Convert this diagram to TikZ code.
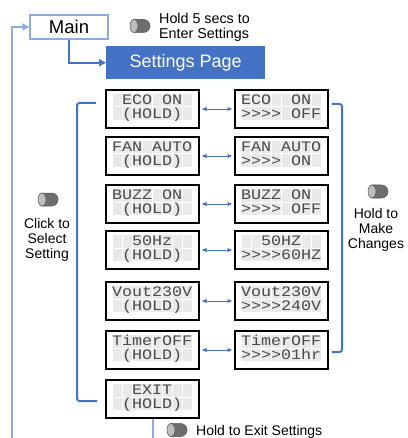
\documentclass[tikz,border=0pt]{standalone}
\usepackage{fontspec}
\setmainfont{Liberation Sans}
\newfontfamily\lcdfont[FakeStretch=1.15]{Liberation Mono}
\usetikzlibrary{arrows.meta}
\definecolor{dblue}{HTML}{4472C4}
\definecolor{lblue}{HTML}{8FAADC}
\definecolor{cellgray}{HTML}{E9E9E9}
\definecolor{lcdtext}{HTML}{4A4A4A}
\definecolor{btnbody}{HTML}{6E6E6E}
\definecolor{btnedge}{HTML}{505050}
\definecolor{btnface}{HTML}{BDBDBD}
\tikzset{
  lcdbox/.style={draw=black, line width=2pt, fill=white, minimum width=93pt, minimum height=38pt, inner sep=0pt, anchor=north west},
  lcdtxt/.style={font=\lcdfont\fontsize{14.5}{14.5}\selectfont, text=lcdtext, inner sep=0pt, anchor=base west},
  lbl/.style={font=\fontsize{14}{15}\selectfont, align=center, inner sep=0pt},
  dbl/.style={dblue, line width=0.8pt, shorten <=1.5pt, shorten >=1.5pt, {Latex[length=5pt,width=4.5pt]}-{Latex[length=5pt,width=4.5pt]}},
  bracket/.style={dblue, line width=2pt, rounded corners=2.5pt},
  btn/.pic={
    \fill[btnbody, draw=btnedge, line width=0.5pt] (-6,-6.5) -- (3.5,-6.5) arc[start angle=-90, end angle=90, radius=6.5] -- (-6,6.5) -- cycle;
    \filldraw[fill=btnface, draw=btnedge, line width=0.5pt] (-6,0) ellipse[x radius=4, y radius=6.5];
  }
}
\newcommand\lcdunit[5]{%
  \node[lcdbox] (#1) at (#2,#3) {};
  \foreach \rr in {0,1} \foreach \kk in {0,...,7}
    \fill[cellgray] (#2+7.5+\kk*10, #3+5+\rr*13.5) rectangle ++(9,12.5);
  \node[lcdtxt] (#1-a) at (#2+7,#3+15.8) {#4};
  \node[lcdtxt] (#1-b) at (#2+7,#3+29.3) {#5};
}
\begin{document}
\begin{tikzpicture}[x=1pt,y=-1pt]
\useasboundingbox (0,0) rectangle (407,438);

% top
\node[draw=lblue, line width=1.3pt, minimum width=78pt, minimum height=24pt, inner sep=0pt,
      font=\fontsize{18.5}{18.5}\selectfont] (main) at (69,27) {Main};
\node[fill=dblue, minimum width=159pt, minimum height=33pt, inner sep=0pt, anchor=north west,
      text=white, font=\fontsize{18}{18}\selectfont] (settings) at (106,46) {Settings Page};
\pic at (140,26) {btn};
\node[lbl, align=left, anchor=west, font=\fontsize{14.3}{14.5}\selectfont] (hold5) at (159,27.5) {Hold 5 secs to\\Enter Settings};

\draw[dblue, line width=2pt, -{Triangle[length=7pt,width=7pt]}] (main.south) |- (settings.west);
\coordinate (lb) at (12,438);
\draw[lblue, line width=2pt, -{Triangle[length=7pt,width=7pt]}] (lb) |- (main.west);

% LCD units
\lcdunit{ecoL}{105}{89}{~ECO~ON}{~(HOLD)}
\lcdunit{ecoR}{234}{89}{ECO~~ON}{>>>>~OFF}
\lcdunit{fanL}{105}{136}{FAN~AUTO}{~(HOLD)}
\lcdunit{fanR}{234}{136}{FAN~AUTO}{>>>>~ON}
\lcdunit{buzL}{105}{184}{BUZZ~ON}{~(HOLD)}
\lcdunit{buzR}{234}{184}{BUZZ~ON}{>>>>~OFF}
\lcdunit{hzL}{105}{230}{~~50Hz}{~(HOLD)}
\lcdunit{hzR}{234}{230}{~~50HZ}{>>>>60HZ}
\lcdunit{voL}{105}{281}{Vout230V}{~(HOLD)}
\lcdunit{voR}{234}{281}{Vout230V}{>>>>240V}
\lcdunit{tmL}{105}{330}{TimerOFF}{~(HOLD)}
\lcdunit{tmR}{234}{330}{TimerOFF}{>>>>01hr}
\lcdunit{exit}{105}{379}{~~EXIT}{~(HOLD)}

\draw[dbl] (ecoL) -- (ecoR);
\draw[dbl] (fanL) -- (fanR);
\draw[dbl] (buzL) -- (buzR);
\draw[dbl] (hzL) -- (hzR);
\draw[dbl] (voL) -- (voR);
\draw[dbl] (tmL) -- (tmR);

% brackets
\draw[bracket] (96,103) -- (77,103) -- (77,401) -- (97,401);
\draw[bracket] (332,104) -- (342,104) -- (342,352) -- (332,352);

% side labels
\pic at (48,199.5) {btn};
\node[lbl] (click) at (47,239.5) {Click to\\Select\\Setting};
\pic at (378,191.5) {btn};
\node[lbl] (make) at (376,229.5) {Hold to\\Make\\Changes};

% exit
\coordinate (ex) at (153,438);
\draw[lblue, line width=2pt] (exit.south -| ex) -- (ex);
\pic at (177,430) {btn};
\node[lbl, anchor=base west] (holdexit) at (196,435) {Hold to Exit Settings};
\end{tikzpicture}
\end{document}
